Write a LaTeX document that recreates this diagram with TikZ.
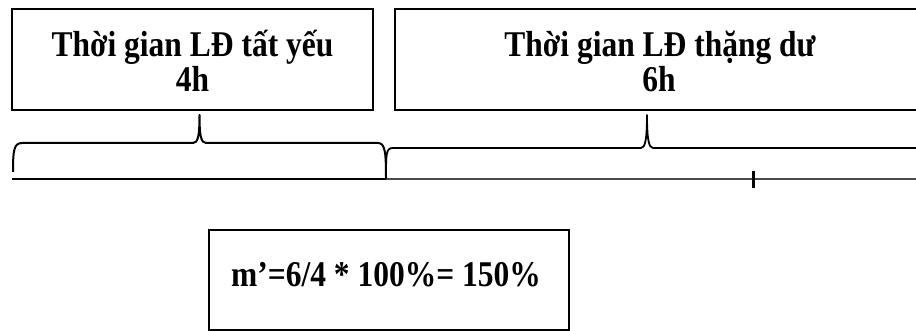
\documentclass[tikz,border=0pt]{standalone}
\usepackage{fontspec}
\setmainfont{Liberation Serif}
\newcommand{\tall}[1]{\scalebox{1}[1.15]{#1}}
\begin{document}
\begin{tikzpicture}[x=1pt,y=-1pt,
  boxframe/.style={draw=black,line width=2.6pt,inner sep=0pt,outer sep=0pt},
  label/.style={inner sep=0pt,anchor=base,font=\fontsize{31.5}{36}\selectfont\bfseries},
  bracepath/.style={line width=2pt,line join=round},
]
\useasboundingbox (0,0) rectangle (916,331);
\clip (0,0) rectangle (916,331);
% boxes
\node[boxframe,minimum width=361pt,minimum height=101pt] (b1) at (192.5,59.5) {};
\node[boxframe,minimum width=600pt,minimum height=101pt,anchor=north west] (b2) at (395,9) {};
\node[boxframe,minimum width=360pt,minimum height=100pt,anchor=north west] (b3) at (209,230) {};
% texts
\node[label] (t1a) at (192.5,57) {\tall{Thời gian LĐ tất yếu}};
\node[label] (t1b) at (192.5,92) {\tall{4h}};
\node[label] (t2a) at (660,57) {\tall{Thời gian LĐ thặng dư}};
\node[label] (t2b) at (659,92) {\tall{6h}};
\node[label] (t3) at (386,287) {\tall{m’=6/4 * 100\%= 150\%}};
% time line
\coordinate (l0) at (12,179);
\coordinate (lm) at (386,179);
\coordinate (l1) at (920,179);
\draw[line width=2.4pt,black] (l0) -- (lm);
\draw[line width=1.5pt,black!70] (lm) -- (l1);
\draw[line width=3pt] (753,171) -- (753,188);
% braces
\draw[bracepath] (13,172) .. controls (13,150) and (14,143) .. (22,143)
  -- (193,143) .. controls (198,143) and (199.5,136) .. (199.5,115)
  .. controls (199.5,136) and (201,143) .. (206,143)
  -- (378,143) .. controls (385,143) and (386,152) .. (386,178);
\draw[bracepath,line width=1.8pt] (386,179) .. controls (386,153) and (386,148) .. (393,148)
  -- (641,148) .. controls (645,148) and (647,140) .. (647,115)
  .. controls (647,140) and (649,148) .. (653,148)
  -- (920,148);
\end{tikzpicture}
\end{document}
